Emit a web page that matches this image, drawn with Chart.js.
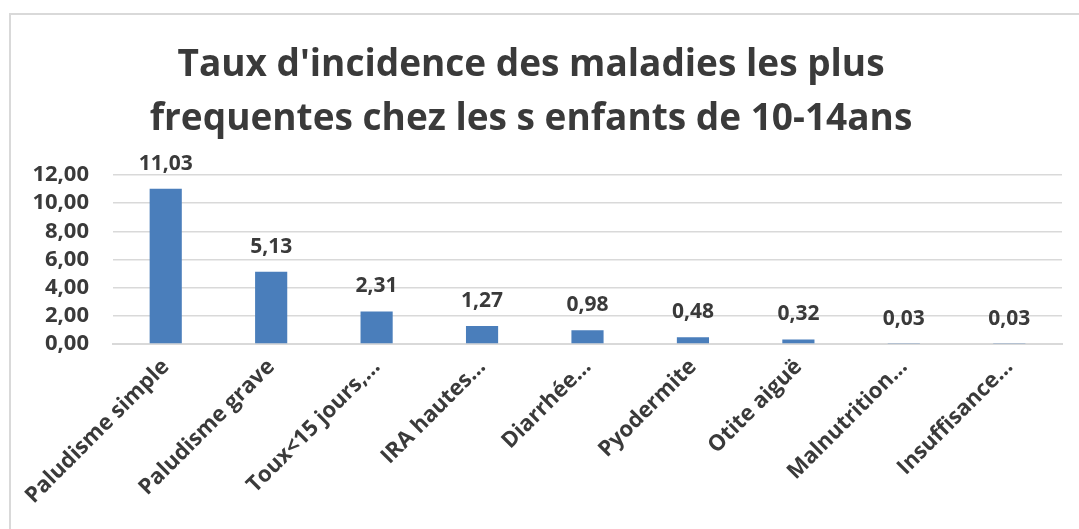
<!DOCTYPE html>
<html>
<head>
<meta charset="utf-8">
<style>
    body { margin: 0; background: #ffffff; }
    #frame { position: absolute; left: 9px; top: 13px; width: 1100px; height: 600px; border: 2px solid #d9d9d9; box-sizing: border-box; }
    #chart-wrapper { position: absolute; left: 0; top: 0; width: 1079px; height: 529px; overflow: hidden; }
</style>
</head>
<body>
<div id="chart-wrapper">
    <div id="frame"></div>
    <canvas id="incidenceChart" width="1079" height="529" style="position: absolute; left: 0; top: 0;"></canvas>
</div>
<script src="https://cdn.jsdelivr.net/npm/chart.js"></script>
<script>
    const categories = ['Paludisme simple', 'Paludisme grave', 'Toux<15 jours,…', 'IRA hautes…', 'Diarrhée…', 'Pyodermite', 'Otite aiguë', 'Malnutrition…', 'Insuffisance…'];
    const incidence = [11.03, 5.13, 2.31, 1.27, 0.98, 0.48, 0.32, 0.03, 0.03];
    const titleLines = ["Taux d'incidence des maladies les plus", 'frequentes chez les s enfants de 10-14ans'];

    const textColor = '#3a3a3a';
    const fontFamily = "'Open Sans', sans-serif";

    function frNumber(v) {
        return Number(v).toFixed(2).replace('.', ',');
    }

    // draws the value above each bar (no datalabels plugin offline)
    const valueLabels = {
        id: 'valueLabels',
        afterDatasetsDraw(chart) {
            const ctx = chart.ctx;
            const meta = chart.getDatasetMeta(0);
            ctx.save();
            ctx.font = 'bold 21px ' + fontFamily;
            ctx.fillStyle = textColor;
            ctx.textAlign = 'center';
            ctx.textBaseline = 'middle';
            meta.data.forEach(function(bar, i) {
                ctx.fillText(frNumber(incidence[i]), bar.x, bar.y - 25);
            });
            ctx.restore();
        }
    };

    new Chart(document.getElementById('incidenceChart'), {
        type: 'bar',
        data: {
            labels: categories,
            datasets: [{
                label: 'Taux',
                data: incidence,
                backgroundColor: '#4a7ebb',
                borderWidth: 0,
                barPercentage: 1,
                categoryPercentage: 0.305
            }]
        },
        options: {
            responsive: false,
            animation: false,
            layout: { padding: { left: 0, right: 17, top: 0, bottom: 0 } },
            plugins: {
                legend: { display: false },
                tooltip: { enabled: false },
                title: {
                    display: true,
                    text: titleLines,
                    color: textColor,
                    font: { size: 37, weight: 'bold', family: fontFamily, lineHeight: 1.46 },
                    padding: { top: 38, bottom: 29 }
                }
            },
            scales: {
                x: {
                    grid: { display: false, drawTicks: false },
                    border: { color: '#d9d9d9', width: 2 },
                    ticks: {
                        color: textColor,
                        font: { size: 22, weight: 'bold', family: fontFamily },
                        minRotation: 45,
                        maxRotation: 45,
                        autoSkip: false,
                        padding: 10
                    },
                    afterFit: function(scale) { scale.height = 185; }
                },
                y: {
                    min: 0,
                    max: 12,
                    grid: { color: '#d9d9d9', lineWidth: 1.5, drawTicks: false },
                    border: { display: false },
                    ticks: {
                        stepSize: 2,
                        autoSkip: false,
                        color: textColor,
                        font: { size: 22, weight: 'bold', family: fontFamily },
                        padding: 24,
                        callback: function(value) { return frNumber(value); }
                    },
                    afterFit: function(scale) { scale.width = 113; }
                }
            }
        },
        plugins: [valueLabels]
    });
</script>
</body>
</html>
